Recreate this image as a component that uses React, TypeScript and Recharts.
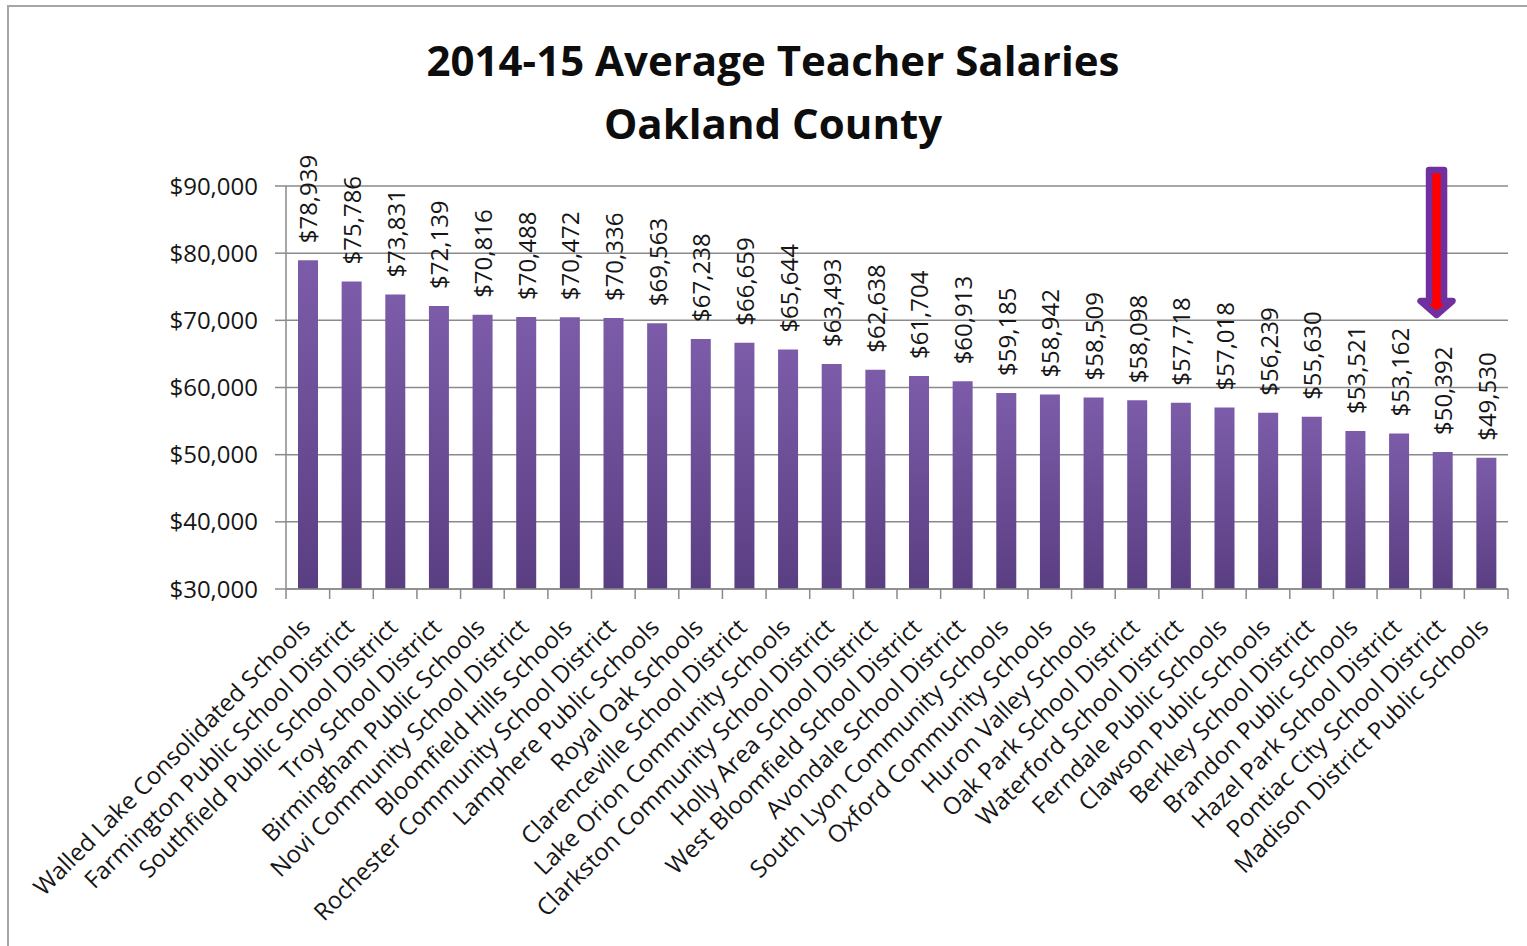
import React from 'react';
import { BarChart, Bar, XAxis, YAxis, CartesianGrid, LabelList, ReferenceLine } from 'recharts';

const districts = [
  'Walled Lake Consolidated Schools',
  'Farmington Public School District',
  'Southfield Public School District',
  'Troy School District',
  'Birmingham Public Schools',
  'Novi Community School District',
  'Bloomfield Hills Schools',
  'Rochester Community School District',
  'Lamphere Public Schools',
  'Royal Oak Schools',
  'Clarenceville School District',
  'Lake Orion Community Schools',
  'Clarkston Community School District',
  'Holly Area School District',
  'West Bloomfield School District',
  'Avondale School District',
  'South Lyon Community Schools',
  'Oxford Community Schools',
  'Huron Valley Schools',
  'Oak Park School District',
  'Waterford School District',
  'Ferndale Public Schools',
  'Clawson Public Schools',
  'Berkley School District',
  'Brandon Public Schools',
  'Hazel Park School District',
  'Pontiac City School District',
  'Madison District Public Schools',
];

const salaries = [
  78939, 75786, 73831, 72139, 70816, 70488, 70472, 70336, 69563, 67238,
  66659, 65644, 63493, 62638, 61704, 60913, 59185, 58942, 58509, 58098,
  57718, 57018, 56239, 55630, 53521, 53162, 50392, 49530,
];

const yTicks = [30000, 40000, 50000, 60000, 70000, 80000, 90000];
const titleLines = ['2014-15 Average Teacher Salaries', 'Oakland County'];
const highlighted = 'Pontiac City School District';
const arrowTop = 92400;
const arrowTip = 70800;

const data = districts.map((name, i) => ({ name, salary: salaries[i] }));

const W = 1527;
const H = 946;
const MARGIN = { top: 186, right: 19, bottom: 0, left: 0 };
const Y_AXIS_W = 286;
const X_AXIS_H = 357;
const PLOT_W = W - MARGIN.left - MARGIN.right - Y_AXIS_W;
const BAND = PLOT_W / districts.length;

const FONT = '"Open Sans", "Liberation Sans", sans-serif';
const GRID = '#8a8a8a';
const TEXT = '#161616';
const fmt = (v: number) => '$' + Number(v).toLocaleString('en-US');

const XTick = (props: any) => {
  const { x, y, payload, index } = props;
  const cx = Number(x);
  const ay = Number(y);
  const lx = cx + 4;
  const ly = ay + 40;
  return (
    <g>
      <line x1={cx - BAND / 2} y1={ay} x2={cx - BAND / 2} y2={ay + 10} stroke={GRID} strokeWidth={1.5} />
      {index === districts.length - 1 && (
        <line x1={cx + BAND / 2} y1={ay} x2={cx + BAND / 2} y2={ay + 10} stroke={GRID} strokeWidth={1.5} />
      )}
      <text
        x={lx}
        y={ly}
        transform={`rotate(-45 ${lx} ${ly})`}
        textAnchor="end"
        fontFamily={FONT}
        fontSize={24}
        fill={TEXT}
      >
        {payload.value}
      </text>
    </g>
  );
};

const ValueLabel = (props: any) => {
  const { x, y, width, value } = props;
  const cx = Number(x) + Number(width) / 2;
  const sy = Number(y) - 17;
  return (
    <text
      x={cx}
      y={sy}
      transform={`rotate(-90 ${cx} ${sy})`}
      textAnchor="start"
      dominantBaseline="central"
      fontFamily={FONT}
      fontSize={24}
      fill={TEXT}
    >
      {fmt(value)}
    </text>
  );
};

const ArrowShape = (props: any) => {
  const { x1, y1, y2 } = props;
  const cx = Number(x1) - 6;
  const top = Math.min(Number(y1), Number(y2));
  const tip = Math.max(Number(y1), Number(y2));
  const headH = 14;
  const shaftHW = 7.5;
  const headHW = 16;
  const d = `M ${cx - shaftHW} ${top} L ${cx + shaftHW} ${top} L ${cx + shaftHW} ${tip - headH} L ${cx + headHW} ${tip - headH} L ${cx} ${tip} L ${cx - headHW} ${tip - headH} L ${cx - shaftHW} ${tip - headH} Z`;
  return <path d={d} fill="#ff0000" stroke="#7030a0" strokeWidth={6.5} strokeLinejoin="round" />;
};

export default function App() {
  return (
    <div style={{ position: 'absolute', left: 0, top: 0, width: W, height: H, overflow: 'hidden', background: '#fff' }}>
      <div
        style={{
          position: 'absolute',
          left: 7,
          top: 5,
          width: W + 20,
          height: H + 20,
          border: '2px solid #a6a6a6',
          boxSizing: 'border-box',
        }}
      />
      <div
        style={{
          position: 'absolute',
          left: 0,
          top: 28,
          width: 1546,
          textAlign: 'center',
          fontFamily: FONT,
          fontWeight: 700,
          fontSize: 42,
          lineHeight: '63px',
          color: '#0d0d0d',
        }}
      >
        {titleLines.map((t) => (
          <div key={t}>{t}</div>
        ))}
      </div>
      <div style={{ position: 'absolute', left: 0, top: 0 }}>
        <BarChart width={W} height={H} data={data} margin={MARGIN} barSize={20}>
          <defs>
            <linearGradient id="barGrad" x1="0" y1="0" x2="0" y2="1">
              <stop offset="0%" stopColor="#7c5ca9" />
              <stop offset="100%" stopColor="#5a3e82" />
            </linearGradient>
          </defs>
          <CartesianGrid vertical={false} stroke={GRID} strokeWidth={1.5} />
          <XAxis
            dataKey="name"
            interval={0}
            height={X_AXIS_H}
            tickLine={false}
            tickSize={0}
            tickMargin={0}
            axisLine={{ stroke: GRID, strokeWidth: 1.5 }}
            tick={<XTick />}
          />
          <YAxis
            width={Y_AXIS_W}
            domain={[30000, 90000]}
            ticks={yTicks}
            allowDataOverflow
            tickFormatter={fmt}
            tickSize={11}
            tickMargin={17}
            tickLine={{ stroke: GRID, strokeWidth: 1.5 }}
            axisLine={{ stroke: GRID, strokeWidth: 1.5 }}
            tick={{ fontFamily: FONT, fontSize: 24, fill: TEXT }}
          />
          <Bar dataKey="salary" fill="url(#barGrad)" isAnimationActive={false}>
            <LabelList dataKey="salary" content={<ValueLabel />} />
          </Bar>
          <ReferenceLine
            segment={[
              { x: highlighted, y: arrowTop },
              { x: highlighted, y: arrowTip },
            ]}
            ifOverflow="visible"
            shape={<ArrowShape />}
          />
        </BarChart>
      </div>
    </div>
  );
}
